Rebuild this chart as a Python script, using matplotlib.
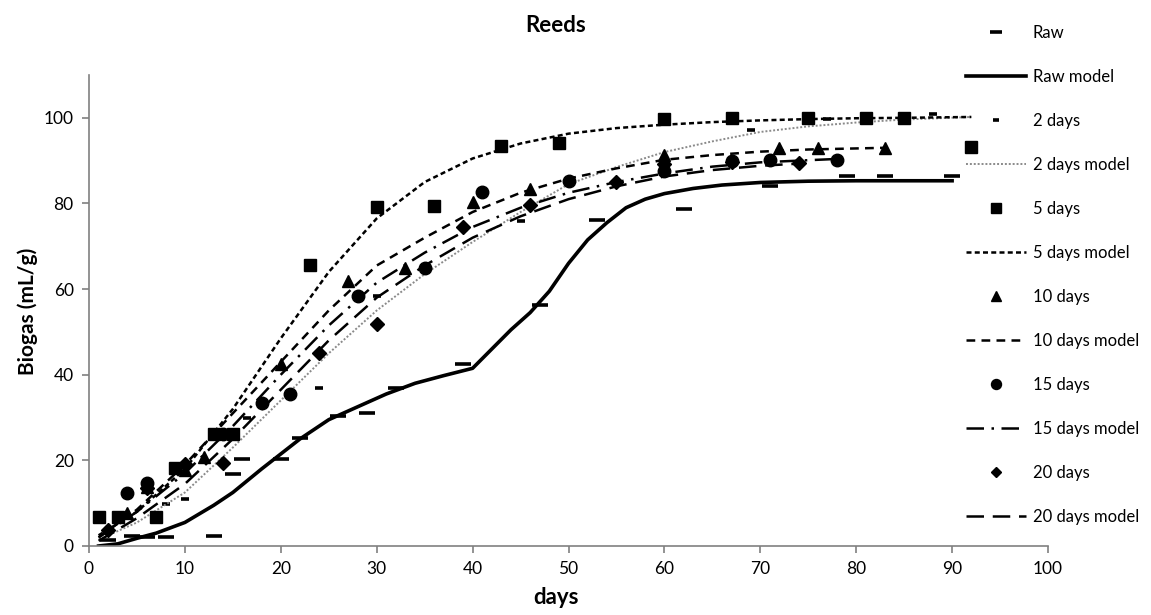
import matplotlib
matplotlib.use("Agg")
import matplotlib.pyplot as plt

plt.rcParams["font.family"] = ["Lato", "DejaVu Sans"]

# observed points
raw_x = [2, 4.5, 6, 8, 13, 15, 16, 20, 22, 26, 29, 32, 39, 47, 53, 62, 71, 79, 83, 90]
raw_y = [1.4, 2.4, 2.2, 2.2, 2.4, 16.9, 20.4, 20.4, 25.3, 30.4, 31.1, 36.9, 42.6, 56.3, 76.2, 78.7, 84, 86.3, 86.3, 86.3]

d2_x = [8, 10, 16.5, 24, 30, 45, 69, 77, 88]
d2_y = [9.8, 11, 30, 37, 58.3, 75.9, 97.2, 99.8, 101]

d5_x = [1, 3, 7, 9, 13, 15, 23, 30, 36, 43, 49, 60, 67, 75, 81, 85, 92]
d5_y = [6.8, 6.8, 6.8, 18.3, 26.2, 26.2, 65.7, 79.2, 79.5, 93.5, 94.2, 99.8, 100, 100, 100, 100, 93.2]

d10_x = [4, 6, 10, 12, 20, 27, 33, 40, 46, 60, 72, 76, 83]
d10_y = [7.7, 13.8, 17.8, 20.8, 42.4, 61.8, 64.9, 80.3, 83.4, 91.2, 93, 93, 93]

d15_x = [4, 6, 14, 18, 21, 28, 35, 41, 50, 60, 67, 71, 78]
d15_y = [12.4, 14.8, 26.2, 33.3, 35.6, 58.5, 64.9, 82.7, 85.2, 87.6, 90, 90.2, 90.2]

d20_x = [2, 6, 10, 14, 24, 30, 39, 46, 55, 60, 67, 74]
d20_y = [3.7, 13.5, 19.2, 19.5, 45, 51.8, 74.4, 79.6, 85, 89.2, 89.7, 89.4]

# model curves
raw_mx = [1, 3, 5, 7, 10, 13, 15, 18, 20, 22, 25, 28, 31, 34, 37, 40, 42, 44, 46, 48, 50,
          52, 54, 56, 58, 60, 63, 66, 70, 75, 80, 90]
raw_my = [0, 0.5, 1.8, 3, 5.5, 9.5, 12.5, 18, 21.5, 25, 29.5, 32.5, 35.5, 38, 39.8, 41.5, 46, 50.5,
          54.5, 59.5, 66, 71.5, 75.5, 79, 81, 82.3, 83.5, 84.3, 84.9, 85.2, 85.3, 85.3]

d2_mx = [1, 5, 10, 15, 20, 25, 30, 35, 40, 45, 50, 55, 60, 65, 70, 75, 80, 85, 92]
d2_my = [1.5, 5.5, 12.5, 23, 34, 45, 55, 63.5, 71, 78, 84.5, 88.5, 92, 94.5, 96.7, 98, 98.9, 99.6, 100.2]

d5_mx = [1, 5, 10, 15, 20, 25, 30, 35, 40, 45, 50, 55, 60, 65, 70, 75, 80, 85, 92]
d5_my = [2.5, 8, 18, 32, 48.5, 64, 76.5, 85, 90.5, 94, 96.3, 97.6, 98.4, 99, 99.4, 99.7, 99.9, 100, 100.2]

d10_mx = [1, 5, 10, 15, 20, 25, 30, 35, 40, 45, 50, 55, 60, 65, 70, 75, 83]
d10_my = [2, 8.5, 19, 31, 43, 55, 65.5, 72, 78, 82.5, 85.8, 88.2, 90.2, 91.3, 92.1, 92.6, 93]

d15_mx = [1, 5, 10, 15, 20, 25, 30, 35, 40, 45, 50, 55, 60, 65, 70, 78]
d15_my = [2, 8, 17, 28, 40, 51.5, 61.5, 68.5, 74.5, 79, 82.5, 85, 87, 88.6, 89.6, 90.4]

d20_mx = [1, 5, 10, 15, 20, 25, 30, 35, 40, 45, 50, 55, 60, 65, 70, 74]
d20_my = [1.2, 6.5, 14.5, 25, 36.5, 48, 58, 65.5, 72, 77, 81, 84, 86.3, 87.8, 88.8, 89.3]

W, H = 1151, 615
fig = plt.figure(figsize=(W / 100, H / 100), dpi=100)
ax = fig.add_axes([89 / W, 1 - 546 / H, (1048 - 89) / W, (546 - 75) / H])

k = "black"
ax.plot(raw_x, raw_y, ls="none", marker="_", ms=11, mew=2.6, color=k, label="Raw")
ax.plot(raw_mx, raw_my, ls="-", lw=2.6, color=k, label="Raw model")
ax.plot(d2_x, d2_y, ls="none", marker="_", ms=6, mew=2.6, color=k, label="2 days")
ax.plot(d2_mx, d2_my, ls=(0, (1, 1)), lw=1.4, color="#8a8a8a", label="2 days model")
ax.plot(d5_x, d5_y, ls="none", marker="s", ms=9, color=k, label="5 days")
ax.plot(d5_mx, d5_my, ls=(0, (2, 1.3)), lw=1.8, color=k, label="5 days model")
ax.plot(d10_x, d10_y, ls="none", marker="^", ms=9, color=k, label="10 days")
ax.plot(d10_mx, d10_my, ls=(0, (3.5, 2.5)), lw=1.8, color=k, label="10 days model")
ax.plot(d15_x, d15_y, ls="none", marker="o", ms=9, color=k, label="15 days")
ax.plot(d15_mx, d15_my, ls=(0, (7, 3, 1, 3)), lw=1.8, color=k, label="15 days model")
ax.plot(d20_x, d20_y, ls="none", marker="D", ms=7, color=k, label="20 days")
ax.plot(d20_mx, d20_my, ls=(0, (7, 3.5)), lw=1.8, color=k, label="20 days model")

ax.set_xlim(0, 100)
ax.set_ylim(0, 110)
ax.set_xticks(range(0, 101, 10))
ax.set_yticks(range(0, 101, 20))
for side in ("top", "right"):
    ax.spines[side].set_visible(False)
for side in ("left", "bottom"):
    ax.spines[side].set_color("#808080")
    ax.spines[side].set_linewidth(1.2)
ax.tick_params(direction="out", length=5, width=1.2, color="#808080", labelsize=12.5, pad=6)

fig.text(556 / W, 1 - 26 / H, "Reeds", ha="center", va="center", fontsize=16, fontweight="bold")
fig.text(556 / W, 1 - 598 / H, "days", ha="center", va="center", fontsize=16, fontweight="bold")
fig.text(28 / W, 1 - 311 / H, "Biogas (mL/g)", ha="center", va="center", rotation=90,
         fontsize=15, fontweight="bold")

fig.legend(loc="upper left", bbox_to_anchor=(966 / W, 1 - 25 / H), frameon=False,
           borderpad=0, borderaxespad=0, fontsize=12, handlelength=3.6,
           handletextpad=0.4, labelspacing=1.68, markerscale=0.8)

fig.savefig("out.png", dpi=100)
